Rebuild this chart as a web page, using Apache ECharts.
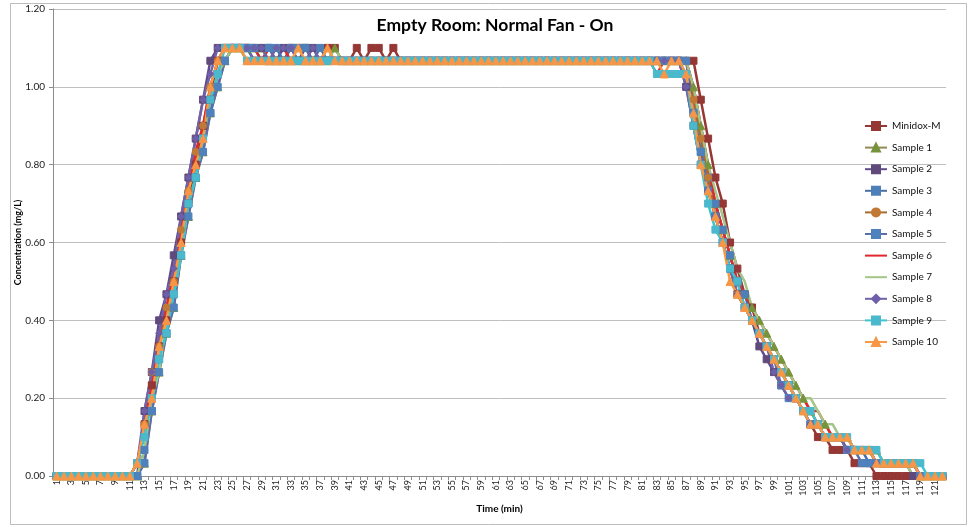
<!DOCTYPE html>
<html>
<head>
<meta charset="utf-8">
<script src="https://cdn.jsdelivr.net/npm/echarts@6/dist/echarts.min.js"></script>
<style>
  html, body { margin: 0; padding: 0; background: #fff; }
  #chart { width: 976px; height: 527px; }
</style>
</head>
<body>
<div id="chart"></div>
<script>
// 时间 (min)
const minutes = [
  1,2,3,4,5,6,7,8,9,10,11,12,13,14,15,16,17,18,19,20,
  21,22,23,24,25,26,27,28,29,30,31,32,33,34,35,36,37,38,39,40,
  41,42,43,44,45,46,47,48,49,50,51,52,53,54,55,56,57,58,59,60,
  61,62,63,64,65,66,67,68,69,70,71,72,73,74,75,76,77,78,79,80,
  81,82,83,84,85,86,87,88,89,90,91,92,93,94,95,96,97,98,99,100,
  101,102,103,104,105,106,107,108,109,110,111,112,113,114,115,116,117,118,119,120,
  121,122
];
const yTicks = [0, 0.2, 0.4, 0.6, 0.8, 1.0, 1.2];

// concentration (mg/L), one array per sensor
const minidoxM = [
  0,0,0,0,0,0,0,0,0,0,0,
  0.033,0.133,0.233,0.333,0.4,0.5,0.6,0.7,0.8,0.9,0.967,1.067,
  1.1,1.1,1.1,1.1,1.067,1.067,1.067,1.067,1.067,1.1,1.1,1.1,1.067,1.067,1.1,1.1,1.067,1.067,1.1,1.067,1.1,1.1,
  1.067,1.1,1.067,1.067,1.067,1.067,1.067,1.067,1.067,1.067,1.067,1.067,1.067,1.067,1.067,1.067,1.067,1.067,1.067,1.067,
  1.067,1.067,1.067,1.067,1.067,1.067,1.067,1.067,1.067,1.067,1.067,1.067,1.067,1.067,1.067,1.067,1.067,1.067,1.067,1.067,
  1.067,1.067,1.067,0.967,0.867,0.767,0.7,0.6,0.533,0.467,0.433,0.367,0.333,0.3,0.267,0.233,0.2,0.167,0.133,0.1,0.1,
  0.067,0.067,0.067,0.033,0.033,0.033,0,0,0,0,0,0,0,0,0,0
];
const sample1 = [
  0,0,0,0,0,0,0,0,0,0,0,
  0,0.033,0.167,0.267,0.367,0.433,0.567,0.667,0.767,0.833,0.933,1.0,
  1.067,1.1,1.1,1.1,1.1,1.1,1.067,1.067,1.067,1.067,1.067,1.067,1.067,1.067,1.067,1.1,1.067,1.067,1.067,1.067,1.067,1.067,
  1.067,1.067,1.067,1.067,1.067,1.067,1.067,1.067,1.067,1.067,1.067,1.067,1.067,1.067,1.067,1.067,1.067,1.067,1.067,1.067,
  1.067,1.067,1.067,1.067,1.067,1.067,1.067,1.067,1.067,1.067,1.067,1.067,1.067,1.067,1.067,1.067,1.067,1.067,1.067,1.067,
  1.067,1.067,1.0,0.9,0.8,0.7,0.633,0.567,0.5,0.467,0.433,0.4,0.367,0.333,0.3,0.267,0.233,0.2,0.167,0.133,0.133,
  0.1,0.1,0.1,0.067,0.067,0.067,0.067,0.033,0.033,0.033,0.033,0.033,0,0,0,0
];
const sample2 = [
  0,0,0,0,0,0,0,0,0,0,0,
  0,0.167,0.267,0.4,0.467,0.567,0.667,0.767,0.867,0.967,1.067,1.1,
  1.1,1.1,1.1,1.1,1.1,1.1,1.1,1.067,1.1,1.1,1.067,1.1,1.1,1.067,1.067,1.067,1.067,1.067,1.067,1.067,1.067,1.067,
  1.067,1.067,1.067,1.067,1.067,1.067,1.067,1.067,1.067,1.067,1.067,1.067,1.067,1.067,1.067,1.067,1.067,1.067,1.067,1.067,
  1.067,1.067,1.067,1.067,1.067,1.067,1.067,1.067,1.067,1.067,1.067,1.067,1.067,1.067,1.067,1.067,1.067,1.067,1.067,1.067,
  1.067,1.0,0.9,0.8,0.733,0.667,0.6,0.533,0.467,0.433,0.4,0.333,0.3,0.267,0.233,0.233,0.2,0.167,0.133,0.133,0.1,
  0.1,0.1,0.067,0.067,0.067,0.067,0.033,0.033,0.033,0.033,0.033,0,0,0,0,0
];
const sample3 = [
  0,0,0,0,0,0,0,0,0,0,0,
  0,0.067,0.167,0.3,0.367,0.467,0.567,0.7,0.767,0.867,0.933,1.033,
  1.067,1.1,1.1,1.1,1.1,1.067,1.1,1.1,1.067,1.1,1.1,1.1,1.067,1.1,1.067,1.067,1.067,1.067,1.067,1.067,1.067,1.067,
  1.067,1.067,1.067,1.067,1.067,1.067,1.067,1.067,1.067,1.067,1.067,1.067,1.067,1.067,1.067,1.067,1.067,1.067,1.067,1.067,
  1.067,1.067,1.067,1.067,1.067,1.067,1.067,1.067,1.067,1.067,1.067,1.067,1.067,1.067,1.067,1.067,1.067,1.067,1.067,1.067,
  1.067,1.033,0.933,0.833,0.767,0.7,0.633,0.567,0.5,0.467,0.4,0.367,0.333,0.3,0.267,0.233,0.2,0.167,0.133,0.133,0.1,
  0.1,0.1,0.067,0.067,0.067,0.033,0.033,0.033,0.033,0.033,0.033,0.033,0,0,0,0
];
const sample4 = [
  0,0,0,0,0,0,0,0,0,0,0,
  0.033,0.133,0.267,0.333,0.433,0.5,0.633,0.733,0.833,0.9,1.0,1.067,
  1.1,1.1,1.1,1.067,1.067,1.067,1.067,1.067,1.067,1.067,1.067,1.067,1.067,1.067,1.067,1.067,1.067,1.067,1.067,1.067,1.067,1.067,
  1.067,1.067,1.067,1.067,1.067,1.067,1.067,1.067,1.067,1.067,1.067,1.067,1.067,1.067,1.067,1.067,1.067,1.067,1.067,1.067,
  1.067,1.067,1.067,1.067,1.067,1.067,1.067,1.067,1.067,1.067,1.067,1.067,1.067,1.067,1.067,1.067,1.067,1.067,1.067,1.067,
  1.067,1.067,0.967,0.867,0.767,0.667,0.6,0.533,0.467,0.433,0.4,0.367,0.333,0.3,0.267,0.233,0.2,0.167,0.167,0.133,0.1,
  0.1,0.1,0.067,0.067,0.067,0.067,0.033,0.033,0.033,0.033,0.033,0.033,0,0,0,0
];
const sample5 = [
  0,0,0,0,0,0,0,0,0,0,0,
  0,0.033,0.167,0.267,0.367,0.433,0.567,0.667,0.767,0.833,0.933,1.0,
  1.067,1.1,1.1,1.1,1.067,1.067,1.1,1.067,1.067,1.067,1.067,1.067,1.067,1.067,1.067,1.067,1.067,1.067,1.067,1.067,1.067,1.067,
  1.067,1.067,1.067,1.067,1.067,1.067,1.067,1.067,1.067,1.067,1.067,1.067,1.067,1.067,1.067,1.067,1.067,1.067,1.067,1.067,
  1.067,1.067,1.067,1.067,1.067,1.067,1.067,1.067,1.067,1.067,1.067,1.067,1.067,1.067,1.067,1.067,1.067,1.067,1.067,1.067,
  1.067,1.067,0.933,0.833,0.733,0.667,0.6,0.533,0.5,0.433,0.4,0.367,0.333,0.3,0.233,0.2,0.2,0.167,0.133,0.133,0.1,
  0.1,0.1,0.067,0.067,0.033,0.033,0.033,0.033,0.033,0.033,0.033,0.033,0,0,0,0
];
const sample6 = [
  0,0,0,0,0,0,0,0,0,0,0,
  0.033,0.133,0.233,0.367,0.433,0.533,0.633,0.733,0.833,0.9,1.0,1.067,
  1.1,1.1,1.1,1.1,1.1,1.067,1.1,1.1,1.1,1.067,1.067,1.067,1.067,1.067,1.067,1.067,1.067,1.067,1.067,1.067,1.067,1.067,
  1.067,1.067,1.067,1.067,1.067,1.067,1.067,1.067,1.067,1.067,1.067,1.067,1.067,1.067,1.067,1.067,1.067,1.067,1.067,1.067,
  1.067,1.067,1.067,1.067,1.067,1.067,1.067,1.067,1.067,1.067,1.067,1.067,1.067,1.067,1.067,1.067,1.067,1.033,1.067,1.067,
  1.067,1.067,1.0,0.9,0.8,0.7,0.633,0.567,0.5,0.467,0.433,0.4,0.367,0.333,0.3,0.267,0.233,0.2,0.167,0.167,0.133,
  0.1,0.1,0.1,0.067,0.067,0.067,0.033,0.033,0.033,0.033,0.033,0.033,0,0,0,0
];
const sample7 = [
  0,0,0,0,0,0,0,0,0,0,0,
  0,0.067,0.2,0.267,0.4,0.467,0.567,0.7,0.767,0.867,0.967,1.033,
  1.067,1.1,1.1,1.067,1.067,1.067,1.067,1.067,1.067,1.067,1.067,1.067,1.067,1.067,1.067,1.1,1.067,1.067,1.067,1.067,1.067,1.067,
  1.067,1.067,1.067,1.067,1.067,1.067,1.067,1.067,1.067,1.067,1.067,1.067,1.067,1.067,1.067,1.067,1.067,1.067,1.067,1.067,
  1.067,1.067,1.067,1.067,1.067,1.067,1.067,1.067,1.067,1.067,1.067,1.067,1.067,1.067,1.067,1.067,1.067,1.067,1.067,1.067,
  1.067,1.067,1.0,0.9,0.8,0.733,0.667,0.6,0.533,0.5,0.433,0.4,0.367,0.333,0.3,0.267,0.233,0.2,0.2,0.167,0.133,
  0.133,0.1,0.1,0.067,0.067,0.067,0.033,0.033,0.033,0.033,0.033,0,0,0,0,0
];
const sample8 = [
  0,0,0,0,0,0,0,0,0,0,0,
  0.033,0.167,0.267,0.367,0.467,0.533,0.667,0.767,0.867,0.967,1.033,1.1,
  1.1,1.1,1.1,1.1,1.1,1.1,1.067,1.1,1.1,1.1,1.067,1.067,1.1,1.067,1.067,1.067,1.067,1.067,1.067,1.067,1.067,1.067,
  1.067,1.067,1.067,1.067,1.067,1.067,1.067,1.067,1.067,1.067,1.067,1.067,1.067,1.067,1.067,1.067,1.067,1.067,1.067,1.067,
  1.067,1.067,1.067,1.067,1.067,1.067,1.067,1.067,1.067,1.067,1.067,1.067,1.067,1.067,1.067,1.067,1.067,1.067,1.067,1.067,
  1.067,1.0,0.9,0.8,0.733,0.667,0.6,0.533,0.467,0.433,0.4,0.367,0.333,0.267,0.233,0.2,0.2,0.167,0.133,0.133,0.1,
  0.1,0.1,0.067,0.067,0.067,0.067,0.033,0.033,0.033,0.033,0.033,0.033,0,0,0,0
];
const sample9 = [
  0,0,0,0,0,0,0,0,0,0,0,
  0.033,0.1,0.2,0.3,0.367,0.467,0.567,0.7,0.767,0.867,0.967,1.033,
  1.1,1.1,1.1,1.067,1.067,1.067,1.067,1.067,1.067,1.067,1.067,1.067,1.067,1.067,1.067,1.067,1.067,1.067,1.067,1.067,1.067,1.067,
  1.067,1.067,1.067,1.067,1.067,1.067,1.067,1.067,1.067,1.067,1.067,1.067,1.067,1.067,1.067,1.067,1.067,1.067,1.067,1.067,
  1.067,1.067,1.067,1.067,1.067,1.067,1.067,1.067,1.067,1.067,1.067,1.067,1.067,1.067,1.067,1.067,1.067,1.033,1.033,1.033,
  1.033,1.033,0.9,0.8,0.7,0.633,0.6,0.533,0.5,0.433,0.4,0.367,0.333,0.3,0.267,0.233,0.2,0.167,0.167,0.133,0.1,
  0.1,0.1,0.1,0.067,0.067,0.067,0.067,0.033,0.033,0.033,0.033,0.033,0.033,0,0,0
];
const sample10 = [
  0,0,0,0,0,0,0,0,0,0,0,
  0.033,0.133,0.2,0.333,0.4,0.5,0.6,0.733,0.8,0.867,1.0,1.067,
  1.1,1.1,1.1,1.067,1.067,1.067,1.067,1.067,1.067,1.067,1.1,1.067,1.067,1.067,1.1,1.067,1.067,1.067,1.067,1.067,1.067,1.067,
  1.067,1.067,1.067,1.067,1.067,1.067,1.067,1.067,1.067,1.067,1.067,1.067,1.067,1.067,1.067,1.067,1.067,1.067,1.067,1.067,
  1.067,1.067,1.067,1.067,1.067,1.067,1.067,1.067,1.067,1.067,1.067,1.067,1.067,1.067,1.067,1.067,1.067,1.067,1.033,1.067,
  1.067,1.033,0.933,0.8,0.733,0.667,0.6,0.5,0.467,0.433,0.4,0.367,0.333,0.3,0.267,0.233,0.2,0.167,0.133,0.133,0.1,
  0.1,0.1,0.1,0.067,0.067,0.067,0.033,0.033,0.033,0.033,0.033,0.033,0,0,0,0
];

const FONT = 'Lato, "Open Sans", sans-serif';

function line(name, data, lineColor, markColor, symbol, size) {
  return {
    name: name,
    type: 'line',
    data: data,
    symbol: symbol,
    symbolSize: size,
    showSymbol: symbol !== 'none',
    showAllSymbol: true,
    lineStyle: { color: lineColor, width: 2.5 },
    itemStyle: { color: markColor, borderColor: markColor, borderWidth: 1 },
    emphasis: { disabled: true },
    animation: false
  };
}

// 无标记的系列：图例里只画线
const plainLine = { itemStyle: { opacity: 0 } };

const chart = echarts.init(document.getElementById('chart'));
chart.setOption({
  backgroundColor: '#fff',
  animation: false,
  textStyle: { fontFamily: FONT },
  title: {
    text: 'Empty Room: Normal Fan - On',
    left: 490,
    top: 11,
    textAlign: 'center',
    textStyle: { fontFamily: FONT, fontSize: 17.5, fontWeight: 'bold', color: '#000' }
  },
  graphic: [{
    type: 'rect',
    shape: { x: 10.5, y: 3.5, width: 956, height: 521 },
    style: { fill: 'none', stroke: '#bdbdbd', lineWidth: 1 },
    silent: true,
    z: -1
  }],
  legend: {
    orient: 'vertical',
    left: 859,
    top: 116,
    itemWidth: 22,
    itemHeight: 10,
    itemGap: 11.6,
    textStyle: { fontFamily: FONT, fontSize: 10, color: '#111' },
    data: ['Minidox-M', 'Sample 1', 'Sample 2', 'Sample 3', 'Sample 4', 'Sample 5',
           Object.assign({ name: 'Sample 6' }, plainLine),
           Object.assign({ name: 'Sample 7' }, plainLine),
           'Sample 8', 'Sample 9', 'Sample 10']
  },
  grid: { left: 53, right: 30, top: 9, bottom: 51 },
  xAxis: {
    type: 'category',
    data: minutes,
    boundaryGap: true,
    name: 'Time (min)',
    nameLocation: 'middle',
    nameGap: 28,
    nameMoveOverlap: false,
    nameTextStyle: { fontFamily: FONT, fontSize: 10, fontWeight: 'bold', color: '#000' },
    axisLine: { lineStyle: { color: '#8c8c8c', width: 1 } },
    axisTick: { show: true, interval: 0, length: 4, lineStyle: { color: '#8c8c8c' } },
    axisLabel: { interval: 1, rotate: 90, fontSize: 9, color: '#222', margin: 4 },
    splitLine: { show: false }
  },
  yAxis: {
    type: 'value',
    min: yTicks[0],
    max: yTicks[yTicks.length - 1],
    interval: 0.2,
    name: 'Concentration (mg/L)',
    nameLocation: 'middle',
    nameGap: 30,
    nameMoveOverlap: false,
    nameTextStyle: { fontFamily: FONT, fontSize: 9, fontWeight: 'bold', color: '#000' },
    axisLine: { show: true, lineStyle: { color: '#8c8c8c', width: 1 } },
    axisTick: { show: true, length: 4, lineStyle: { color: '#8c8c8c' } },
    axisLabel: { fontSize: 10, color: '#222', margin: 8, formatter: v => v.toFixed(2) },
    splitLine: { lineStyle: { color: '#bfbfbf', width: 1 } }
  },
  series: [
    line('Minidox-M', minidoxM, '#953735', '#953735', 'rect', 7),
    line('Sample 1', sample1, '#938953', '#77933c', 'triangle', 8),
    line('Sample 2', sample2, '#5f4b8b', '#604a7b', 'rect', 7),
    line('Sample 3', sample3, '#4a6ea8', '#4f7fb8', 'rect', 7),
    line('Sample 4', sample4, '#a66d2f', '#c17a35', 'circle', 7),
    line('Sample 5', sample5, '#5a6db0', '#4f81bd', 'rect', 7),
    line('Sample 6', sample6, '#e0282e', '#e0282e', 'none', 0),
    line('Sample 7', sample7, '#a3c585', '#a3c585', 'none', 0),
    line('Sample 8', sample8, '#7163a6', '#6f5fa8', 'diamond', 7),
    line('Sample 9', sample9, '#3cc5d0', '#4bb9cc', 'rect', 7),
    line('Sample 10', sample10, '#f89a45', '#f79646', 'triangle', 8)
  ]
});
</script>
</body>
</html>
